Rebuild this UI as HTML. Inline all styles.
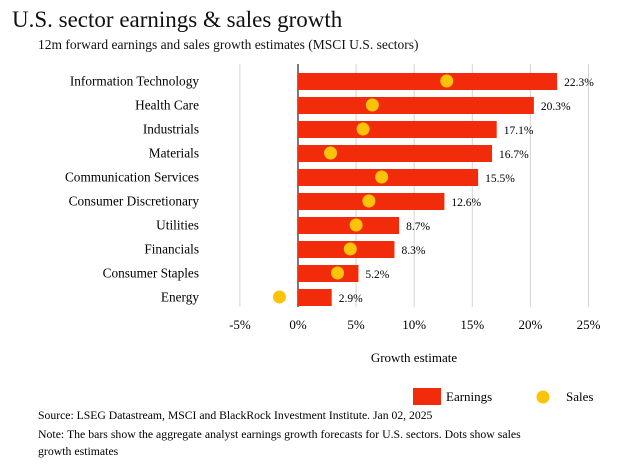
<!DOCTYPE html>
<html><head><meta charset="utf-8"><style>
body{margin:0;background:#fff;width:623px;height:465px;overflow:hidden;font-family:"Liberation Serif",serif;color:#111}
</style></head><body>
<svg width="623" height="465" id="c" style="font-family:'Liberation Serif',serif">
<text x="12" y="27" font-size="23" fill="#111">U.S. sector earnings &amp; sales growth</text>
<text x="38" y="49" font-size="13.5" fill="#111">12m forward earnings and sales growth estimates (MSCI U.S. sectors)</text>
<g id="grid"></g><g id="bars"></g>
<text x="414" y="362" font-size="13" text-anchor="middle">Growth estimate</text>
<rect x="413" y="388" width="28" height="17" fill="#f22b0a"/>
<text x="446" y="401" font-size="13">Earnings</text>
<circle cx="543" cy="397" r="6.5" fill="#fcc409"/>
<text x="566" y="401" font-size="13">Sales</text>
<text x="38" y="419" font-size="11.7">Source: LSEG Datastream, MSCI and BlackRock Investment Institute. Jan 02, 2025</text>
<text x="38" y="438" font-size="11.8">Note: The bars show the aggregate analyst earnings growth forecasts for U.S. sectors. Dots show sales</text>
<text x="38" y="455" font-size="11.8">growth estimates</text>
</svg>
<script>
const categories=["Information Technology","Health Care","Industrials","Materials","Communication Services","Consumer Discretionary","Utilities","Financials","Consumer Staples","Energy"];
const earnings=[22.3,20.3,17.1,16.7,15.5,12.6,8.7,8.3,5.2,2.9];
const sales=[12.8,6.4,5.6,2.8,7.2,6.1,5.0,4.5,3.4,-1.6];
const ticks=[-5,0,5,10,15,20,25];
const NS="http://www.w3.org/2000/svg";
const x=v=>298+v*11.62;
const y=i=>81+i*24;
function mk(t,a,p){const e=document.createElementNS(NS,t);for(const k in a)e.setAttribute(k,a[k]);p.appendChild(e);return e;}
const g=document.getElementById('grid'),b=document.getElementById('bars');
ticks.forEach(t=>{
 const l=mk('line',{x1:x(t),x2:x(t),y1:64,y2:307,stroke:t===0?'#222':'#d4d4d4','stroke-width':t===0?1.2:1},g);
 
 
 const tx=mk('text',{x:x(t),y:329,'font-size':13,'text-anchor':'middle'},g);tx.textContent=t+'%';
 
 
});
categories.forEach((c,i)=>{
 const lb=mk('text',{x:199,y:y(i)+4.5,'font-size':13.3,'text-anchor':'end'},b);lb.textContent=c;
 
 
 const r=mk('rect',{x:x(0),y:y(i)-8,width:x(earnings[i])-x(0),height:17,fill:'#f22b0a'},b);
 
 
 const v=mk('text',{x:x(earnings[i])+7,y:y(i)+5,'font-size':11.5},b);v.textContent=earnings[i].toFixed(1)+'%';
 
 
 const d=mk('circle',{cx:x(sales[i]),cy:y(i),r:6.5,fill:'#fcc409'},b);
 
 
});
</script>
</body></html>
